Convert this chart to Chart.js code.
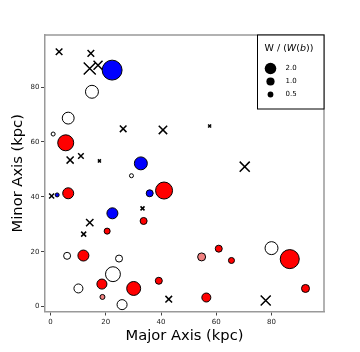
<!DOCTYPE html>
<html>
<head>
<meta charset="utf-8">
<script src="https://cdn.jsdelivr.net/npm/chart.js"></script>
<style>
  html, body { margin: 0; padding: 0; background: #fff; }
  #wrap { width: 360px; height: 352px; }
</style>
</head>
<body>
<div id="wrap"><canvas id="chart" width="360" height="352"></canvas></div>
<script>
// Tick labels
const xTicks = [0, 20, 40, 60, 80];
const yTicks = [0, 20, 40, 60, 80];

// Blue circles
const blueX = [22.3, 32.7, 35.9, 22.4, 2.4];
const blueY = [86.2, 52.2, 41.3, 34.0, 40.7];
const blueW = [5.9, 2.5, 0.73, 1.8, 0.24];

// Red circles
const redX = [5.5, 6.4, 41.1, 33.7, 20.5, 11.9, 18.6, 30.1, 39.2, 60.9, 65.5, 86.6, 92.3, 56.4];
const redY = [59.7, 41.3, 42.3, 31.2, 27.5, 18.6, 8.2, 6.6, 9.4, 21.1, 16.8, 17.3, 6.6, 3.3];
const redW = [3.8, 1.8, 4.3, 0.73, 0.54, 1.8, 1.5, 2.9, 0.73, 0.73, 0.54, 5.4, 0.95, 1.2];

// Light red circles
const pinkX = [18.8, 54.7];
const pinkY = [3.5, 18.1];
const pinkW = [0.37, 0.95];

// Open circles
const openX = [15.0, 6.4, 0.95, 29.3, 6.0, 24.8, 22.6, 10.1, 25.9, 80.0];
const openY = [78.3, 68.7, 62.9, 47.7, 18.5, 17.5, 11.8, 6.6, 0.7, 21.3];
const openW = [2.5, 2.1, 0.24, 0.24, 0.73, 0.73, 3.3, 1.2, 1.5, 2.5];

// Crosses
const crossX = [3.1, 14.6, 14.2, 17.2, 26.3, 40.7, 57.6, 70.3, 7.1, 11.0, 17.7, 0.4, 33.3, 14.2, 12.0, 42.8, 77.9];
const crossY = [92.9, 92.3, 86.8, 88.0, 64.8, 64.4, 65.8, 51.0, 53.4, 54.9, 53.1, 40.3, 35.8, 30.6, 26.4, 2.7, 2.2];
const crossW = [1.3, 1.3, 4.3, 2.4, 1.3, 2.1, 0.27, 3.0, 1.5, 0.93, 0.27, 0.74, 0.48, 1.6, 0.74, 1.3, 3.0];

// Legend
const legendW = [2.0, 1.0, 0.5];
const legendLabels = ['2.0', '1.0', '0.5'];

const FONT = 'DejaVu Sans';
const SPINE = '#999999';

function markerRadius(w) {
    return 4.1 * Math.sqrt(w);
}

function points(xs, ys, ws) {
    return xs.map((x, i) => ({ x: x, y: ys[i], w: ws[i] }));
}

function circleSet(xs, ys, ws, color) {
    return {
        data: points(xs, ys, ws),
        pointStyle: 'circle',
        backgroundColor: color,
        borderColor: '#000',
        borderWidth: 1,
        pointRadius: c => markerRadius(c.raw.w),
        pointHoverRadius: c => markerRadius(c.raw.w),
    };
}

// Marco superior/derecho y leyenda de tamaños
const framePlugin = {
    id: 'frame',
    afterDraw(chart) {
        const ctx = chart.ctx;
        const a = chart.chartArea;
        ctx.save();
        ctx.strokeStyle = SPINE;
        ctx.lineWidth = 1.5;
        ctx.beginPath();
        ctx.moveTo(a.left, a.top);
        ctx.lineTo(a.right, a.top);
        ctx.lineTo(a.right, a.bottom);
        ctx.stroke();

        // caja de la leyenda
        const bx = 257.5, by = a.top, bw = a.right - bx, bh = 74;
        ctx.fillStyle = '#fff';
        ctx.fillRect(bx, by, bw, bh);
        ctx.strokeStyle = '#000';
        ctx.lineWidth = 1;
        ctx.strokeRect(bx, by, bw, bh);

        // título: W / (W(b))
        ctx.fillStyle = '#000';
        ctx.textBaseline = 'middle';
        ctx.textAlign = 'left';
        let tx = bx + 7;
        const ty = by + 13.5;
        const parts = [['W / (', ''], ['W', 'italic '], ['(', ''], ['b', 'italic '], ['))', '']];
        parts.forEach(p => {
            ctx.font = p[1] + '9.5px "' + FONT + '"';
            ctx.fillText(p[0], tx, ty);
            tx += ctx.measureText(p[0]).width;
        });

        ctx.font = '7px "' + FONT + '"';
        legendW.forEach((w, i) => {
            const cy = by + 33.5 + i * 13;
            ctx.beginPath();
            ctx.arc(bx + 13, cy, markerRadius(w), 0, Math.PI * 2);
            ctx.fillStyle = '#000';
            ctx.fill();
            ctx.fillText(legendLabels[i], bx + 28, cy);
        });
        ctx.restore();
    }
};

new Chart(document.getElementById('chart'), {
    type: 'scatter',
    data: {
        datasets: [
            circleSet(blueX, blueY, blueW, '#0000ff'),
            circleSet(redX, redY, redW, '#ff0000'),
            circleSet(pinkX, pinkY, pinkW, '#f08080'),
            circleSet(openX, openY, openW, '#ffffff'),
            {
                data: points(crossX, crossY, crossW),
                pointStyle: 'crossRot',
                borderColor: '#000',
                backgroundColor: '#000',
                borderWidth: 1.5,
                pointRadius: c => markerRadius(c.raw.w),
                pointHoverRadius: c => markerRadius(c.raw.w),
            },
        ]
    },
    options: {
        responsive: false,
        animation: false,
        events: [],
        layout: { padding: { top: 35, right: 36, left: 0, bottom: 0 } },
        plugins: {
            legend: { display: false },
            tooltip: { enabled: false },
        },
        scales: {
            x: {
                type: 'linear',
                min: -2,
                max: 99,
                afterBuildTicks: s => { s.ticks = xTicks.map(v => ({ value: v })); },
                afterFit: s => { s.height = 40.5; },
                grid: { drawOnChartArea: false, drawTicks: true, tickLength: 4, tickColor: '#444', tickWidth: 1 },
                border: { color: SPINE, width: 1.5 },
                ticks: { font: { family: FONT, size: 7 }, color: '#222', padding: 2.5, maxRotation: 0 },
                title: { display: true, text: 'Major Axis (kpc)', color: '#000', font: { family: FONT, size: 14.7 }, padding: { top: 0, bottom: 7 } },
            },
            y: {
                type: 'linear',
                min: -1.8,
                max: 99,
                afterBuildTicks: s => { s.ticks = yTicks.map(v => ({ value: v })); },
                afterFit: s => { s.width = 45; },
                grid: { drawOnChartArea: false, drawTicks: true, tickLength: 4, tickColor: '#444', tickWidth: 1 },
                border: { color: SPINE, width: 1.5 },
                ticks: { font: { family: FONT, size: 7 }, color: '#222', padding: 1.5 },
                title: { display: true, text: 'Minor Axis (kpc)', color: '#000', font: { family: FONT, size: 14.7 }, padding: { top: 9, bottom: 0 } },
            }
        }
    },
    plugins: [framePlugin]
});
</script>
</body>
</html>
